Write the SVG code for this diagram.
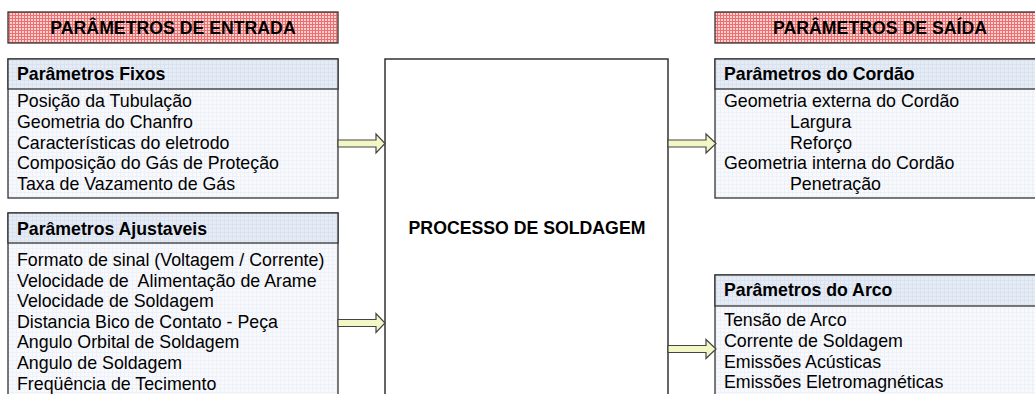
<svg xmlns="http://www.w3.org/2000/svg" width="1035" height="394" viewBox="0 0 1035 394">
<defs>
<pattern id="pink" width="3" height="3" patternUnits="userSpaceOnUse">
<rect width="3" height="3" fill="#fcd0d0"/>
<path d="M0,0.5H3M0.5,0V3" stroke="#ec7070" stroke-width="1"/>
</pattern>
<pattern id="blue" width="4" height="4" patternUnits="userSpaceOnUse">
<rect width="4" height="4" fill="#e6ecf6"/>
<path d="M0,0.5H4M0.5,0V4" stroke="#dae2ef" stroke-width="1"/>
</pattern>
<pattern id="light" width="4" height="4" patternUnits="userSpaceOnUse">
<rect width="4" height="4" fill="#f8f9fc"/>
<path d="M0,0.5H4M0.5,0V4" stroke="#eef1f7" stroke-width="1"/>
</pattern>
</defs>
<style>
.title{font-family:"Liberation Sans",Arial,sans-serif;font-weight:bold;font-size:17.7px;fill:#000;text-anchor:middle}
.hdr{font-family:"Liberation Sans",Arial,sans-serif;font-weight:bold;font-size:17.7px;fill:#000}
.txt{font-family:"Liberation Sans",Arial,sans-serif;font-size:17.8px;fill:#000;white-space:pre}
.tbox{fill:url(#pink);stroke:#333;stroke-width:1.3}
.hbox{fill:url(#blue);stroke:#333;stroke-width:1.3}
.bbox{fill:url(#light);stroke:#333;stroke-width:1.3}
.proc{fill:#fff;stroke:#333;stroke-width:1.5}
.arrow{fill:#f3f7c6;stroke:#444;stroke-width:1.2}
</style>
<g id="title-entrada">
<rect class="tbox" x="8" y="12" width="330" height="31"/>
<text class="title" x="173" y="34">PARÂMETROS DE ENTRADA</text>
</g>
<g id="title-saida">
<rect class="tbox" x="715" y="12" width="330" height="31"/>
<text class="title" x="880" y="34">PARÂMETROS DE SAÍDA</text>
</g>
<g id="fixos">
<rect class="bbox" x="8" y="59" width="330" height="139"/>
<rect class="hbox" x="8" y="59" width="330" height="30"/>
<text class="hdr" x="17" y="80">Parâmetros Fixos</text>
<text class="txt" x="17" y="107">Posição da Tubulação</text>
<text class="txt" x="17" y="127.8">Geometria do Chanfro</text>
<text class="txt" x="17" y="148.6">Características do eletrodo</text>
<text class="txt" x="17" y="169.4">Composição do Gás de Proteção</text>
<text class="txt" x="17" y="190.2">Taxa de Vazamento de Gás</text>
</g>
<g id="ajustaveis">
<rect class="bbox" x="8" y="213" width="330" height="190"/>
<rect class="hbox" x="8" y="213" width="330" height="30"/>
<text class="hdr" x="17" y="235">Parâmetros Ajustaveis</text>
<text class="txt" x="17" y="266">Formato de sinal (Voltagem / Corrente)</text>
<text class="txt" x="17" y="286.6" xml:space="preserve">Velocidade de  Alimentação de Arame</text>
<text class="txt" x="17" y="307.2">Velocidade de Soldagem</text>
<text class="txt" x="17" y="327.8">Distancia Bico de Contato - Peça</text>
<text class="txt" x="17" y="348.4">Angulo Orbital de Soldagem</text>
<text class="txt" x="17" y="369">Angulo de Soldagem</text>
<text class="txt" x="17" y="389.6">Freqüência de Tecimento</text>
</g>
<g id="processo">
<rect class="proc" x="385" y="59" width="283" height="350"/>
<text class="hdr" x="527" y="234" text-anchor="middle">PROCESSO DE SOLDAGEM</text>
</g>
<g id="cordao">
<rect class="bbox" x="715" y="59" width="330" height="139"/>
<rect class="hbox" x="715" y="59" width="330" height="30"/>
<text class="hdr" x="724" y="80">Parâmetros do Cordão</text>
<text class="txt" x="724" y="107">Geometria externa do Cordão</text>
<text class="txt" x="790" y="127.8">Largura</text>
<text class="txt" x="790" y="148.6">Reforço</text>
<text class="txt" x="724" y="169.4">Geometria interna do Cordão</text>
<text class="txt" x="790" y="190.2">Penetração</text>
</g>
<g id="arco">
<rect class="bbox" x="715" y="275" width="330" height="130"/>
<rect class="hbox" x="715" y="275" width="330" height="31"/>
<text class="hdr" x="724" y="296">Parâmetros do Arco</text>
<text class="txt" x="724" y="326">Tensão de Arco</text>
<text class="txt" x="724" y="346.8">Corrente de Soldagem</text>
<text class="txt" x="724" y="367.6">Emissões Acústicas</text>
<text class="txt" x="724" y="388.4">Emissões Eletromagnéticas</text>
</g>
<g id="connectors">
<path class="arrow" transform="translate(338,143.5)" d="M0,-3.5H38V-9.5L47,0L38,9.5V3.5H0Z"/>
<path class="arrow" transform="translate(338,323)" d="M0,-3.5H38V-9.5L47,0L38,9.5V3.5H0Z"/>
<path class="arrow" transform="translate(668,143.5)" d="M0,-3.5H38V-9.5L48,0L38,9.5V3.5H0Z"/>
<path class="arrow" transform="translate(668,349)" d="M0,-3.5H38V-9.5L48,0L38,9.5V3.5H0Z"/>
</g>
</svg>
